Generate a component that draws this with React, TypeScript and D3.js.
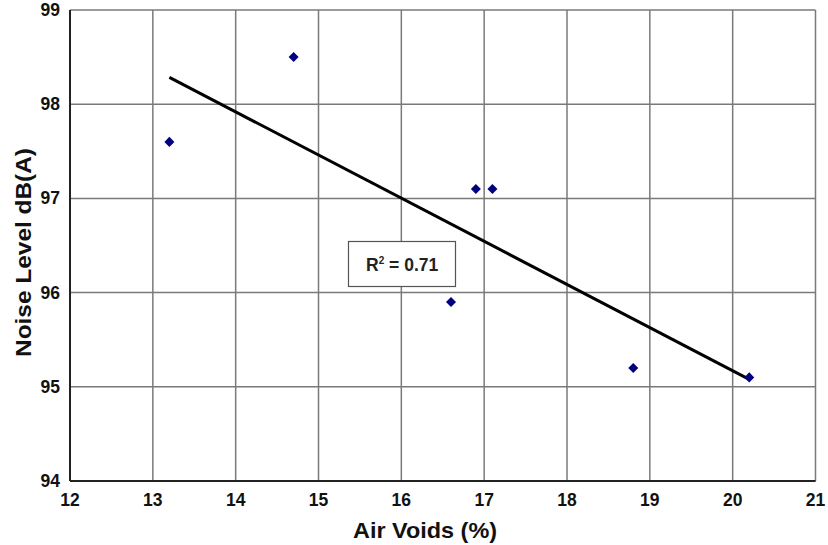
import React from "react";
import * as d3 from "d3";

const airVoids = [13.2, 14.7, 16.6, 16.9, 17.1, 18.8, 20.2];
const noiseLevel = [97.6, 98.5, 95.9, 97.1, 97.1, 95.2, 95.1];
const xTicks = [12, 13, 14, 15, 16, 17, 18, 19, 20, 21];
const yTicks = [94, 95, 96, 97, 98, 99];
const xLabel = "Air Voids (%)";
const yLabel = "Noise Level dB(A)";

const W = 828;
const H = 545;
const margin = { left: 70, right: 12.5, top: 10, bottom: 64 };

export default function App() {
  const x = d3.scaleLinear().domain([12, 21]).range([margin.left, W - margin.right]);
  const y = d3.scaleLinear().domain([94, 99]).range([H - margin.bottom, margin.top]);

  const mx = d3.mean(airVoids)!;
  const my = d3.mean(noiseLevel)!;
  let sxy = 0, sxx = 0, syy = 0;
  airVoids.forEach((v, i) => {
    sxy += (v - mx) * (noiseLevel[i] - my);
    sxx += (v - mx) ** 2;
    syy += (noiseLevel[i] - my) ** 2;
  });
  const slope = sxy / sxx;
  const intercept = my - slope * mx;
  const r2 = (sxy * sxy) / (sxx * syy);
  const x0 = d3.min(airVoids)!;
  const x1 = d3.max(airVoids)!;
  const line = d3.line<number>().x((d) => x(d)).y((d) => y(intercept + slope * d));

  const font = "'Liberation Sans', Arial, sans-serif";
  const diamond = d3.symbol().type(d3.symbolDiamond2).size(64)();

  return (
    <svg width={W} height={H} style={{ position: "absolute", left: 0, top: 0 }}>
      <rect width={W} height={H} fill="#fff" />
      {xTicks.map((t) => (
        <line key={"gx" + t} x1={x(t)} x2={x(t)} y1={y(94)} y2={y(99)} stroke="#7a7a7a" strokeWidth={1.5} />
      ))}
      {yTicks.map((t) => (
        <line key={"gy" + t} x1={x(12)} x2={x(21)} y1={y(t)} y2={y(t)} stroke="#7a7a7a" strokeWidth={1.5} />
      ))}
      <line x1={x(12)} x2={x(12)} y1={y(94)} y2={y(99)} stroke="#222" strokeWidth={2} />
      <line x1={x(12)} x2={x(21)} y1={y(94)} y2={y(94)} stroke="#222" strokeWidth={2} />
      {xTicks.map((t) => (
        <text key={"tx" + t} x={x(t)} y={y(94) + 25} textAnchor="middle" fontFamily={font} fontWeight="bold" fontSize={17.5} fill="#111">
          {t}
        </text>
      ))}
      {yTicks.map((t) => (
        <text key={"ty" + t} x={x(12) - 10} y={y(t) + 6} textAnchor="end" fontFamily={font} fontWeight="bold" fontSize={17.5} fill="#111">
          {t}
        </text>
      ))}
      <path d={line([x0, x1]) || ""} stroke="#000" strokeWidth={3} fill="none" />
      {airVoids.map((v, i) => (
        <path key={"p" + i} d={diamond || ""} transform={`translate(${x(v)},${y(noiseLevel[i])})`} fill="#000080" />
      ))}
      <rect x={348.5} y={241.5} width={107} height={45} fill="#fff" stroke="#555" strokeWidth={1.2} />
      <text x={366} y={271} fontFamily={font} fontWeight="bold" fontSize={17.5} fill="#222">
        R<tspan dy={-7.5} fontSize={10}>2</tspan>
        <tspan dy={7.5}> = {r2.toFixed(2)}</tspan>
      </text>
      <text x={425} y={538} textAnchor="middle" fontFamily={font} fontWeight="bold" fontSize={22} fill="#111" textLength={144} lengthAdjust="spacingAndGlyphs">
        {xLabel}
      </text>
      <text transform={`translate(31,252.5) rotate(-90)`} textAnchor="middle" fontFamily={font} fontWeight="bold" fontSize={22} fill="#111" textLength={209} lengthAdjust="spacingAndGlyphs">
        {yLabel}
      </text>
    </svg>
  );
}
